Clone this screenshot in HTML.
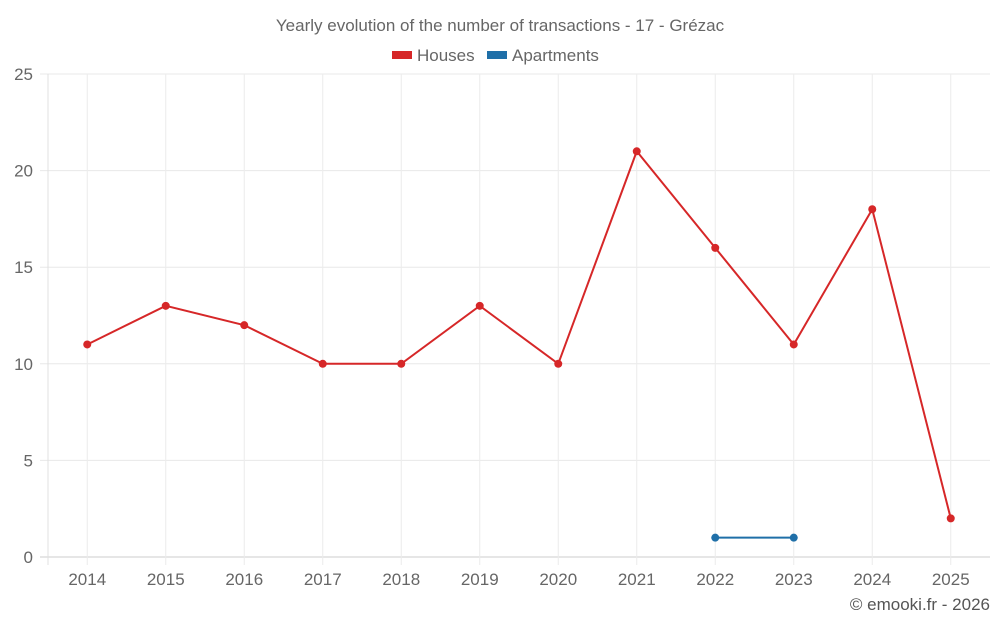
<!DOCTYPE html>
<html><head><meta charset="utf-8"><style>
html,body{margin:0;padding:0;background:#fff;}
svg{display:block;font-family:"Liberation Sans",sans-serif;}
</style></head><body>
<svg id="chart" width="1000" height="625">
<text x="500" y="31" text-anchor="middle" font-size="17" fill="#666">Yearly evolution of the number of transactions - 17 - Grézac</text>
<g>
<g><rect x="392" y="51" width="20" height="8" fill="#d62728"/><text x="417" y="61" font-size="17" fill="#666">Houses</text></g>
<g><rect x="487" y="51" width="20" height="8" fill="#1f6fa8"/><text x="512" y="61" font-size="17" fill="#666">Apartments</text></g>
</g>
<g id="grid"></g><g id="axes"></g><g id="series"></g>
<text x="990" y="610" text-anchor="end" font-size="17" fill="#555">© emooki.fr - 2026</text>
</svg>
<script>
const years=["2014","2015","2016","2017","2018","2019","2020","2021","2022","2023","2024","2025"];
const houses=[11,13,12,10,10,13,10,21,16,11,18,2];
const apartments=[null,null,null,null,null,null,null,null,1,1,null,null];
const yTicks=[0,5,10,15,20,25];
const NS="http://www.w3.org/2000/svg";
const L=48,R=990,T=74,B=557,yMax=25;
const bw=(R-L)/years.length;
const xs=i=>L+bw*(i+0.5);
const ys=v=>B-(v/yMax)*(B-T);
function mk(tag,attrs,parent){const e=document.createElementNS(NS,tag);for(const k in attrs)e.setAttribute(k,attrs[k]);parent.appendChild(e);return e;}
const grid=document.getElementById('grid'),axes=document.getElementById('axes'),series=document.getElementById('series');
yTicks.forEach(t=>{
 const l=mk('line',{x1:L-8,x2:R,y1:ys(t),y2:ys(t),stroke:t===0?'#ccc':'#e8e8e8','stroke-width':1},grid);
 
 
 const tx=mk('text',{x:33,y:ys(t)+6,'text-anchor':'end','font-size':17,fill:'#666'},axes);
 tx.textContent=t;
 
 
});
mk('line',{x1:L,x2:L,y1:T,y2:B+8,stroke:'#e0e0e0'},grid);
years.forEach((y,i)=>{
 const l=mk('line',{x1:xs(i),x2:xs(i),y1:T,y2:B+8,stroke:'#ececec'},grid);
 
 
 const tx=mk('text',{x:xs(i),y:585,'text-anchor':'middle','font-size':17,fill:'#666'},axes);
 tx.textContent=y;
 
 
});
function draw(data,color,name){
 let d='';let pen=false;
 data.forEach((v,i)=>{if(v===null){pen=false;return;}d+=(pen?'L':'M')+xs(i)+','+ys(v)+' ';pen=true;});
 const p=mk('path',{d:d,fill:'none',stroke:color,'stroke-width':2},series);
 
 
 data.forEach((v,i)=>{if(v===null)return;
  const c=mk('circle',{cx:xs(i),cy:ys(v),r:4,fill:color},series);
  
  
 });
}
draw(houses,'#d62728','houses');
draw(apartments,'#1f6fa8','apartments');
</script>
</body></html>
